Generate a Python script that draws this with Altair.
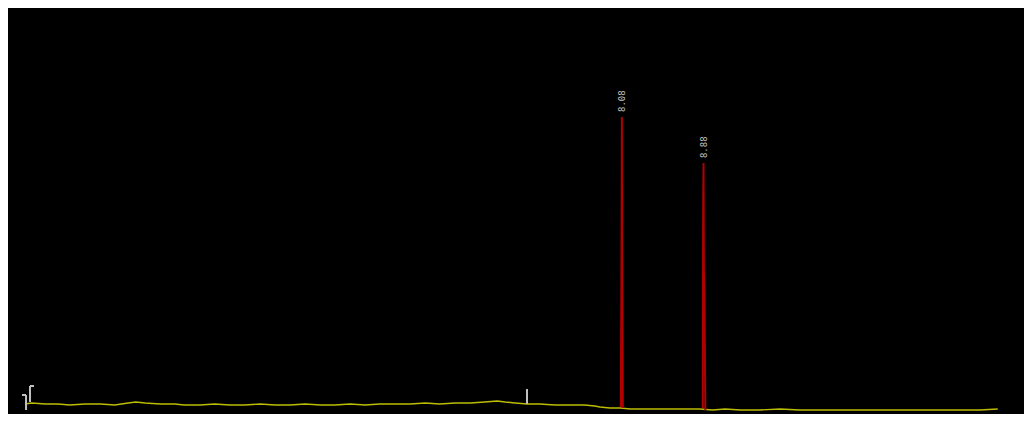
import altair as alt
import pandas as pd

# Baseline trace (time in min, signal in mV)
base_t = [0.20, 0.28, 0.44, 0.59, 0.73, 0.91, 1.09, 1.26, 1.42, 1.51, 1.62, 1.80, 1.97, 2.08,
          2.27, 2.44, 2.62, 2.80, 2.98, 3.15, 3.33, 3.51, 3.69, 3.86, 4.04, 4.22, 4.39, 4.57,
          4.75, 4.93, 5.10, 5.28, 5.46, 5.63, 5.78, 5.87, 5.99, 6.13, 6.28, 6.46, 6.64, 6.81,
          6.93, 6.99, 7.11, 7.23, 7.35, 7.52, 7.70, 7.88, 8.06, 8.17, 8.32, 8.47, 8.65, 8.88,
          9.12, 9.35, 9.59, 9.83, 10.06, 10.30, 10.54, 10.77, 11.01, 11.24, 11.48, 11.69]
base_v = [2.46, 2.71, 2.46, 2.46, 2.22, 2.46, 2.46, 2.22, 2.71, 2.96, 2.71, 2.46, 2.46, 2.22,
          2.22, 2.46, 2.22, 2.22, 2.46, 2.22, 2.22, 2.46, 2.22, 2.22, 2.46, 2.22, 2.46, 2.46,
          2.46, 2.71, 2.46, 2.71, 2.71, 2.96, 3.20, 2.96, 2.71, 2.46, 2.46, 2.22, 2.22, 2.22,
          1.97, 1.72, 1.48, 1.48, 1.23, 1.23, 1.23, 1.23, 1.23, 1.23, 0.99, 1.23, 0.99, 0.99,
          1.23, 0.99, 0.99, 0.99, 0.99, 0.99, 0.99, 0.99, 0.99, 0.99, 0.99, 1.23]

# Peaks
peak1_t = [7.238, 7.246, 7.25, 7.254, 7.262]
peak1_v = [1.72, 37.9, 73.15, 37.9, 1.48]
peak2_t = [8.205, 8.211, 8.215, 8.219, 8.226, 8.236]
peak2_v = [1.48, 51.5, 61.8, 35.5, 30.0, 0.99]

peak_labels = ["8.08", "8.88"]
peak_label_t = [7.25, 8.215]
peak_label_v = [73.15, 61.8]

# Integration markers (vertical rules)
mark_t = [0.213, 0.26, 6.13]
mark_v1 = [0.99, 2.96, 2.46]
mark_v2 = [4.68, 6.90, 6.16]
# bracket caps (horizontal)
cap_t1 = [0.165, 0.26]
cap_t2 = [0.213, 0.307]
cap_v = [4.68, 6.90]

xs = alt.Scale(domain=[0, 12], nice=False, zero=False)
ys = alt.Scale(domain=[0, 100], nice=False, zero=False)

base_df = pd.DataFrame({"t": base_t, "v": base_v, "o": range(len(base_t))})
p1 = pd.DataFrame({"t": peak1_t, "v": peak1_v, "o": range(len(peak1_t)), "pk": "1"})
p2 = pd.DataFrame({"t": peak2_t, "v": peak2_v, "o": range(len(peak2_t)), "pk": "2"})
peaks_df = pd.concat([p1, p2])
lab_df = pd.DataFrame({"t": peak_label_t, "v": peak_label_v, "txt": peak_labels})
mark_df = pd.DataFrame({"t": mark_t, "v1": mark_v1, "v2": mark_v2})
cap_df = pd.DataFrame({"t1": cap_t1, "t2": cap_t2, "v": cap_v})

baseline = alt.Chart(base_df).mark_line(color="#bcbc00", strokeWidth=1.4).encode(
    x=alt.X("t:Q", scale=xs, axis=None),
    y=alt.Y("v:Q", scale=ys, axis=None),
    order="o:Q",
)

peaks = alt.Chart(peaks_df).mark_line(color="#b00000", strokeWidth=2).encode(
    x=alt.X("t:Q", scale=xs, axis=None),
    y=alt.Y("v:Q", scale=ys, axis=None),
    detail="pk:N",
    order="o:Q",
)

labels = alt.Chart(lab_df).mark_text(
    angle=270, align="left", baseline="middle", dx=5, fontSize=9,
    font="DejaVu Sans Mono", color="#c0c0c0"
).encode(
    x=alt.X("t:Q", scale=xs, axis=None),
    y=alt.Y("v:Q", scale=ys, axis=None),
    text="txt:N",
)

marks = alt.Chart(mark_df).mark_rule(color="#c0c0c0", strokeWidth=2).encode(
    x=alt.X("t:Q", scale=xs, axis=None),
    y=alt.Y("v1:Q", scale=ys, axis=None),
    y2="v2:Q",
)

caps = alt.Chart(cap_df).mark_rule(color="#c0c0c0", strokeWidth=2).encode(
    x=alt.X("t1:Q", scale=xs, axis=None),
    x2="t2:Q",
    y=alt.Y("v:Q", scale=ys, axis=None),
)

chart = alt.layer(baseline, marks, caps, peaks, labels).properties(
    width=1016, height=406, background="black", padding=0,
    autosize=alt.AutoSizeParams(type="fit", contains="padding"),
).configure_view(stroke=None)

chart.save("out.html", embed_options={"renderer": "svg", "actions": False})
